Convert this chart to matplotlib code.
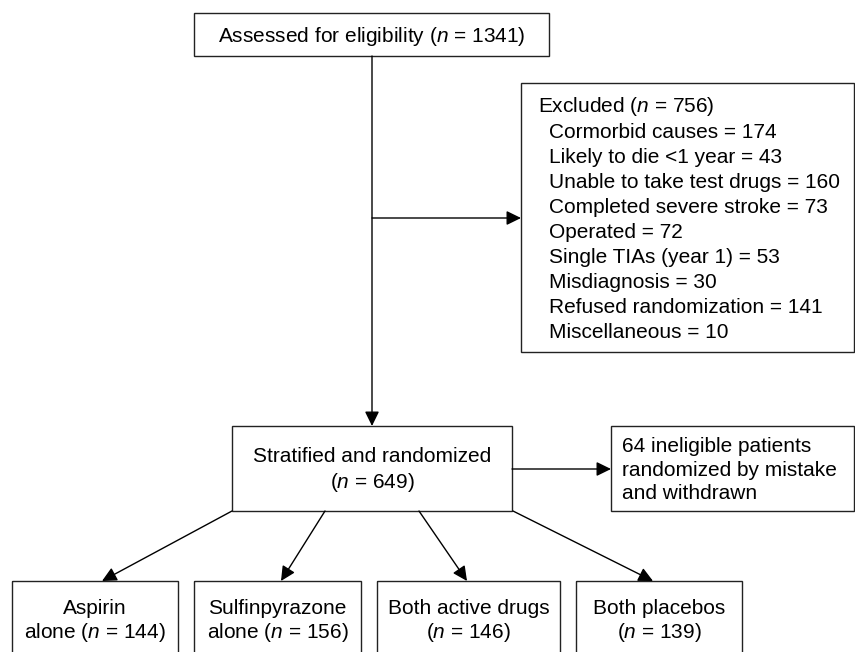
import matplotlib
matplotlib.use("Agg")
import matplotlib.pyplot as plt
from matplotlib.patches import Rectangle

plt.rcParams['font.family'] = ['Liberation Sans', 'DejaVu Sans']
plt.rcParams['mathtext.fontset'] = 'custom'
plt.rcParams['mathtext.rm'] = 'Liberation Sans'
plt.rcParams['mathtext.it'] = 'Liberation Sans:italic'

# ---- data ----
assessed_n = 1341
excluded_n = 756
exclusion_reasons = ["Cormorbid causes", "Likely to die <1 year", "Unable to take test drugs",
                     "Completed severe stroke", "Operated", "Single TIAs (year 1)",
                     "Misdiagnosis", "Refused randomization", "Miscellaneous"]
exclusion_counts = [174, 43, 160, 73, 72, 53, 30, 141, 10]
randomized_n = 649
ineligible_n = 64
group_line1 = ["Aspirin", "Sulfinpyrazone", "Both active drugs", "Both placebos"]
group_line2 = ["alone ", "alone ", "", ""]
group_n = [144, 156, 146, 139]

# ---- layout (pixels) ----
W, H = 855, 652
fig = plt.figure(figsize=(W / 100, H / 100), dpi=100)
ax = fig.add_axes([0, 0, 1, 1])
ax.set_xlim(0, W)
ax.set_ylim(H, 0)
ax.axis('off')

EC = '#222222'
LW = 1.0
FS = 15.0
NI = r'$\it{n}$'

def box(x0, y0, x1, y1):
    ax.add_patch(Rectangle((x0, y0), x1 - x0, y1 - y0, fill=False, ec=EC, lw=LW))

def arrow(x0, y0, x1, y1):
    ax.annotate('', xy=(x1, y1), xytext=(x0, y0),
                arrowprops=dict(arrowstyle='-|>,head_length=0.55,head_width=0.27',
                                mutation_scale=16, lw=LW, color='black',
                                shrinkA=0, shrinkB=0))

# top box
box(194, 13, 549, 56)
ax.text(372, 36, f"Assessed for eligibility ({NI} = {assessed_n})", ha='center', va='center', fontsize=FS)

# main vertical arrow
arrow(372, 56, 372, 426)
# arrow to excluded
arrow(372, 218, 521, 218)

# excluded box
box(521, 83, 854, 352)
ax.text(538, 107, f"Excluded ({NI} = {excluded_n})", ha='left', va='center', fontsize=FS)
for i, (r, c) in enumerate(zip(exclusion_reasons, exclusion_counts)):
    ax.text(549, 107 + 25.1 * (i + 1), f"{r} = {c}", ha='left', va='center', fontsize=FS)

# stratified box
box(232, 426, 512, 511)
ax.text(372, 457, "Stratified and randomized", ha='center', va='center', fontsize=FS)
ax.text(372, 482, f"({NI} = {randomized_n})", ha='center', va='center', fontsize=FS)

# ineligible
arrow(512, 469, 611, 469)
box(611, 426, 854, 511)
for i, t in enumerate([f"{ineligible_n} ineligible patients", "randomized by mistake", "and withdrawn"]):
    ax.text(622, 447 + 23.3 * i, t, ha='left', va='center', fontsize=FS)

# bottom groups
bx = [(12, 178), (194, 361), (377, 560), (576, 742)]
starts = [232, 325, 419, 513]
ends = [102, 281, 467, 653]
for k in range(len(group_n)):
    x0, x1 = bx[k]
    box(x0, 581, x1, 670)
    cx = (x0 + x1) / 2
    ax.text(cx, 608, group_line1[k], ha='center', va='center', fontsize=FS)
    ax.text(cx, 632, f"{group_line2[k]}({NI} = {group_n[k]})", ha='center', va='center', fontsize=FS)
    arrow(starts[k], 511, ends[k], 581)

fig.savefig('out.png', dpi=100, facecolor='white')
